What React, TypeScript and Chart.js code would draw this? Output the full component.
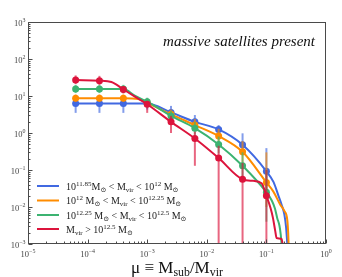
import React, { useEffect, useRef } from "react";
import { Chart, registerables } from "chart.js";

Chart.register(...registerables);

// ---------------- data ----------------
const markerMu = [6.3e-5, 1.58e-4, 3.98e-4, 1.0e-3, 2.51e-3, 6.31e-3, 1.58e-2, 3.98e-2, 1.0e-1];

const blueMarkers = [6.3, 6.3, 6.3, 6.3, 3.6, 2.0, 1.25, 0.48, 0.092];
const blueErrLo = [3.5, 3.5, 3.5, 4.3, 2.75, 1.37, 0.79, 0.25, 0.03];
const blueErrHi = [7.8, 7.8, 7.8, 8.5, 5.4, 3.06, 1.64, 0.98, 0.39];
const blueLineMu = [6.3e-5, 1.58e-4, 3.98e-4, 1.0e-3, 2.51e-3, 6.31e-3, 1.58e-2, 3.98e-2, 1.0e-1, 0.132, 0.158, 0.181, 0.2, 0.214, 0.221, 0.226];
const blueLineN = [6.3, 6.3, 6.3, 6.3, 3.6, 2.0, 1.25, 0.48, 0.092, 0.047, 0.021, 0.0112, 0.0063, 0.0028, 0.0014, 0.0008];

const orangeMarkers = [8.7, 8.7, 8.7, 6.5, 3.2, 1.64, 0.83, 0.31, 0.046];
const orangeErrLo = [7.0, 7.0, 7.0, 5.0, 2.3, 1.1, 0.5, 0.15, 0.01];
const orangeErrHi = [11, 11, 11, 8.5, 4.3, 2.4, 1.3, 0.6, 0.3];
const orangeLineMu = [6.3e-5, 1.58e-4, 3.98e-4, 7.1e-4, 1.0e-3, 2.51e-3, 6.31e-3, 1.58e-2, 3.98e-2, 1.0e-1, 0.131, 0.17, 0.2, 0.224, 0.232, 0.237];
const orangeLineN = [8.7, 8.7, 8.7, 8.3, 6.5, 3.2, 1.64, 0.83, 0.31, 0.046, 0.026, 0.0117, 0.0079, 0.0045, 0.002, 0.0008];

const greenMarkers = [15.5, 15.5, 15.5, 7.0, 2.9, 1.35, 0.49, 0.13, 0.025];
const greenErrLo = [12, 12, 12, 5.5, 2.1, 0.9, 0.28, 0.05, 0.004];
const greenErrHi = [20, 20, 20, 9, 4.0, 2.0, 0.8, 0.3, 0.1];
const greenLineMu = [6.3e-5, 1.58e-4, 3.98e-4, 6.3e-4, 1.0e-3, 2.51e-3, 6.31e-3, 1.58e-2, 3.98e-2, 1.0e-1, 0.123, 0.139, 0.152, 0.165, 0.174, 0.182];
const greenLineN = [15.5, 15.5, 15.5, 10, 7.0, 2.9, 1.35, 0.49, 0.13, 0.025, 0.015, 0.0091, 0.005, 0.0032, 0.0018, 0.0008];

const redMarkers = [27, 26, 15.1, 6.0, 2.0, 0.71, 0.21, 0.056, 0.02];
const redErrLo = [21, 20, 11.7, 3.5, 1.0, 0.13, 1e-5, 1e-5, 1e-5];
const redErrHi = [36, 35, 18.6, 7.0, 2.9, 1.08, 0.45, 0.155, 0.1];
const redLineMu = [6.3e-5, 1.58e-4, 2.51e-4, 3.98e-4, 6.31e-4, 1.0e-3, 2.51e-3, 6.31e-3, 1.58e-2, 3.98e-2, 0.06, 0.083, 1.0e-1, 0.117, 0.129, 0.141, 0.148, 0.18, 0.19];
const redLineN = [27, 26, 24, 15.1, 9.5, 6.0, 2.0, 0.71, 0.21, 0.056, 0.051, 0.044, 0.02, 0.0095, 0.005, 0.0022, 0.00145, 0.00138, 0.0008];

const xTickExps = [-5, -4, -3, -2, -1, 0];
const yTickExps = [-3, -2, -1, 0, 1, 2, 3];

const annotationText = "massive satellites present";

type Seg = [string, number]; // 0 normal, 1 superscript, 2 subscript
const legendLabels: Seg[][] = [
  [["10", 0], ["11.85", 1], ["M", 0], ["⊙", 2], [" < M", 0], ["vir", 2], [" < 10", 0], ["12", 1], [" M", 0], ["⊙", 2]],
  [["10", 0], ["12", 1], [" M", 0], ["⊙", 2], [" < M", 0], ["vir", 2], [" < 10", 0], ["12.25", 1], [" M", 0], ["⊙", 2]],
  [["10", 0], ["12.25", 1], [" M", 0], ["⊙", 2], [" < M", 0], ["vir", 2], [" < 10", 0], ["12.5", 1], [" M", 0], ["⊙", 2]],
  [["M", 0], ["vir", 2], [" > 10", 0], ["12.5", 1], [" M", 0], ["⊙", 2]],
];
const xTitle: Seg[] = [["μ ≡ M", 0], ["sub", 2], ["/M", 0], ["vir", 2]];

const colors = ["#4169e1", "#ff8c00", "#3cb371", "#dc143c"];

const series = [
  { mu: blueLineMu, n: blueLineN, m: blueMarkers, lo: blueErrLo, hi: blueErrHi },
  { mu: orangeLineMu, n: orangeLineN, m: orangeMarkers, lo: orangeErrLo, hi: orangeErrHi },
  { mu: greenLineMu, n: greenLineN, m: greenMarkers, lo: greenErrLo, hi: greenErrHi },
  { mu: redLineMu, n: redLineN, m: redMarkers, lo: redErrLo, hi: redErrHi },
];

const SERIF = "'Liberation Serif', 'DejaVu Serif', serif";

function richWidth(ctx: CanvasRenderingContext2D, segs: Seg[], size: number, style: string) {
  let w = 0;
  for (const [t, k] of segs) {
    const s = k ? size * 0.7 : size;
    ctx.font = `${style}${s}px ${SERIF}`;
    w += ctx.measureText(t).width;
  }
  return w;
}

function drawRich(ctx: CanvasRenderingContext2D, segs: Seg[], x: number, y: number, size: number, align: string, style = "") {
  const w = richWidth(ctx, segs, size, style);
  let cx = align === "left" ? x : align === "right" ? x - w : x - w / 2;
  ctx.textBaseline = "alphabetic";
  ctx.textAlign = "left";
  for (const [t, k] of segs) {
    const s = k ? size * 0.7 : size;
    const dy = k === 1 ? -size * 0.4 : k === 2 ? size * 0.2 : 0;
    ctx.font = `${style}${s}px ${SERIF}`;
    ctx.fillText(t, cx, y + dy);
    cx += ctx.measureText(t).width;
  }
}

function hexA(hex: string, a: number) {
  const r = parseInt(hex.slice(1, 3), 16), g = parseInt(hex.slice(3, 5), 16), b = parseInt(hex.slice(5, 7), 16);
  return `rgba(${r},${g},${b},${a})`;
}

const decor = {
  id: "decor",
  afterDatasetDraw(chart: any, args: any) {
    const ds = chart.data.datasets[args.index];
    if (ds._errSeries === undefined) return;
    const s = series[ds._errSeries];
    const ctx = chart.ctx;
    const xs = chart.scales.x, ys = chart.scales.y;
    const a = chart.chartArea;
    ctx.save();
    ctx.beginPath();
    ctx.rect(a.left, a.top, a.right - a.left, a.bottom - a.top);
    ctx.clip();
    ctx.strokeStyle = hexA(colors[ds._errSeries], 0.65);
    ctx.lineWidth = 2;
    for (let i = 0; i < markerMu.length; i++) {
      const px = xs.getPixelForValue(markerMu[i]);
      const p1 = ys.getPixelForValue(s.lo[i]);
      const p2 = ys.getPixelForValue(s.hi[i]);
      ctx.beginPath();
      ctx.moveTo(px, Math.min(p1, a.bottom + 2));
      ctx.lineTo(px, p2);
      ctx.stroke();
    }
    ctx.restore();
  },
  afterDraw(chart: any) {
    const ctx: CanvasRenderingContext2D = chart.ctx;
    const a = chart.chartArea;
    const xs = chart.scales.x, ys = chart.scales.y;
    ctx.save();
    const axisColor = "#4a4a4a";
    ctx.strokeStyle = axisColor;
    ctx.lineWidth = 1;
    const L = Math.round(a.left) + 0.5, R = Math.round(a.right) - 0.5, T = Math.round(a.top) + 0.5, B = Math.round(a.bottom) - 0.5;
    ctx.strokeRect(L, T, R - L, B - T);
    // ticks
    ctx.beginPath();
    for (let e = -5; e <= 0; e++) {
      for (let m = 1; m <= 9; m++) {
        const v = m * Math.pow(10, e);
        if (v > 1.0000001) break;
        const px = Math.round(xs.getPixelForValue(v)) + 0.5;
        const len = m === 1 ? 4 : 2;
        ctx.moveTo(px, B);
        ctx.lineTo(px, B - len);
      }
    }
    for (let e = -3; e <= 3; e++) {
      for (let m = 1; m <= 9; m++) {
        const v = m * Math.pow(10, e);
        if (v > 1000.0001) break;
        const py = Math.round(ys.getPixelForValue(v)) + 0.5;
        const len = m === 1 ? 4 : 2;
        ctx.moveTo(L, py);
        ctx.lineTo(L + len, py);
      }
    }
    ctx.stroke();
    // tick labels
    ctx.fillStyle = "#444";
    for (const e of xTickExps) {
      const px = xs.getPixelForValue(Math.pow(10, e));
      drawRich(ctx, [["10", 0], [e < 0 ? "−" + -e : String(e), 1]], px, B + 13, 8.5, "center");
    }
    for (const e of yTickExps) {
      const py = ys.getPixelForValue(Math.pow(10, e));
      drawRich(ctx, [["10", 0], [e < 0 ? "−" + -e : String(e), 1]], L - 3, py + 3.5, 8.5, "right");
    }
    // x title
    ctx.fillStyle = "#111";
    drawRich(ctx, xTitle, (a.left + a.right) / 2, 273, 17, "center");
    // annotation
    ctx.font = `italic 15px ${SERIF}`;
    ctx.textAlign = "right";
    ctx.textBaseline = "alphabetic";
    ctx.fillText(annotationText, 315, 46);
    // legend
    const rows = [186, 200.5, 215, 229];
    for (let i = 0; i < 4; i++) {
      ctx.strokeStyle = colors[i];
      ctx.lineWidth = 2;
      ctx.beginPath();
      ctx.moveTo(37, rows[i]);
      ctx.lineTo(59, rows[i]);
      ctx.stroke();
      ctx.fillStyle = "#222";
      drawRich(ctx, legendLabels[i], 66, rows[i] + 3.5, 10, "left");
    }
    ctx.restore();
  },
};

export default function App() {
  const ref = useRef<HTMLCanvasElement | null>(null);
  useEffect(() => {
    if (!ref.current) return;
    const datasets: any[] = [];
    series.forEach((s, i) => {
      datasets.push({
        type: "line",
        data: s.mu.map((x, j) => ({ x, y: s.n[j] })),
        borderColor: colors[i],
        borderWidth: 2,
        pointRadius: 0,
        fill: false,
        cubicInterpolationMode: "monotone",
        order: (3 - i) * 2 + 1,
        _errSeries: i,
      });
      datasets.push({
        type: "line",
        data: markerMu.map((x, j) => ({ x, y: s.m[j] })),
        showLine: false,
        pointRadius: 3.5,
        pointBorderWidth: 0,
        pointBackgroundColor: colors[i],
        pointBorderColor: colors[i],
        order: (3 - i) * 2,
      });
    });
    const chart = new Chart(ref.current, {
      type: "line",
      data: { datasets },
      options: {
        animation: false,
        responsive: false,
        events: [],
        layout: { padding: { left: 28, top: 22, right: 16, bottom: 33 } },
        plugins: { legend: { display: false }, tooltip: { enabled: false } },
        scales: {
          x: { type: "logarithmic", min: 1e-5, max: 1, display: false },
          y: { type: "logarithmic", min: 1e-3, max: 1e3, display: false },
        },
      },
      plugins: [decor],
    } as any);
    return () => chart.destroy();
  }, []);
  return (
    <div style={{ position: "fixed", left: 0, top: 0, width: 342, height: 277, background: "#fff" }}>
      <canvas ref={ref} width={342} height={277} />
    </div>
  );
}
